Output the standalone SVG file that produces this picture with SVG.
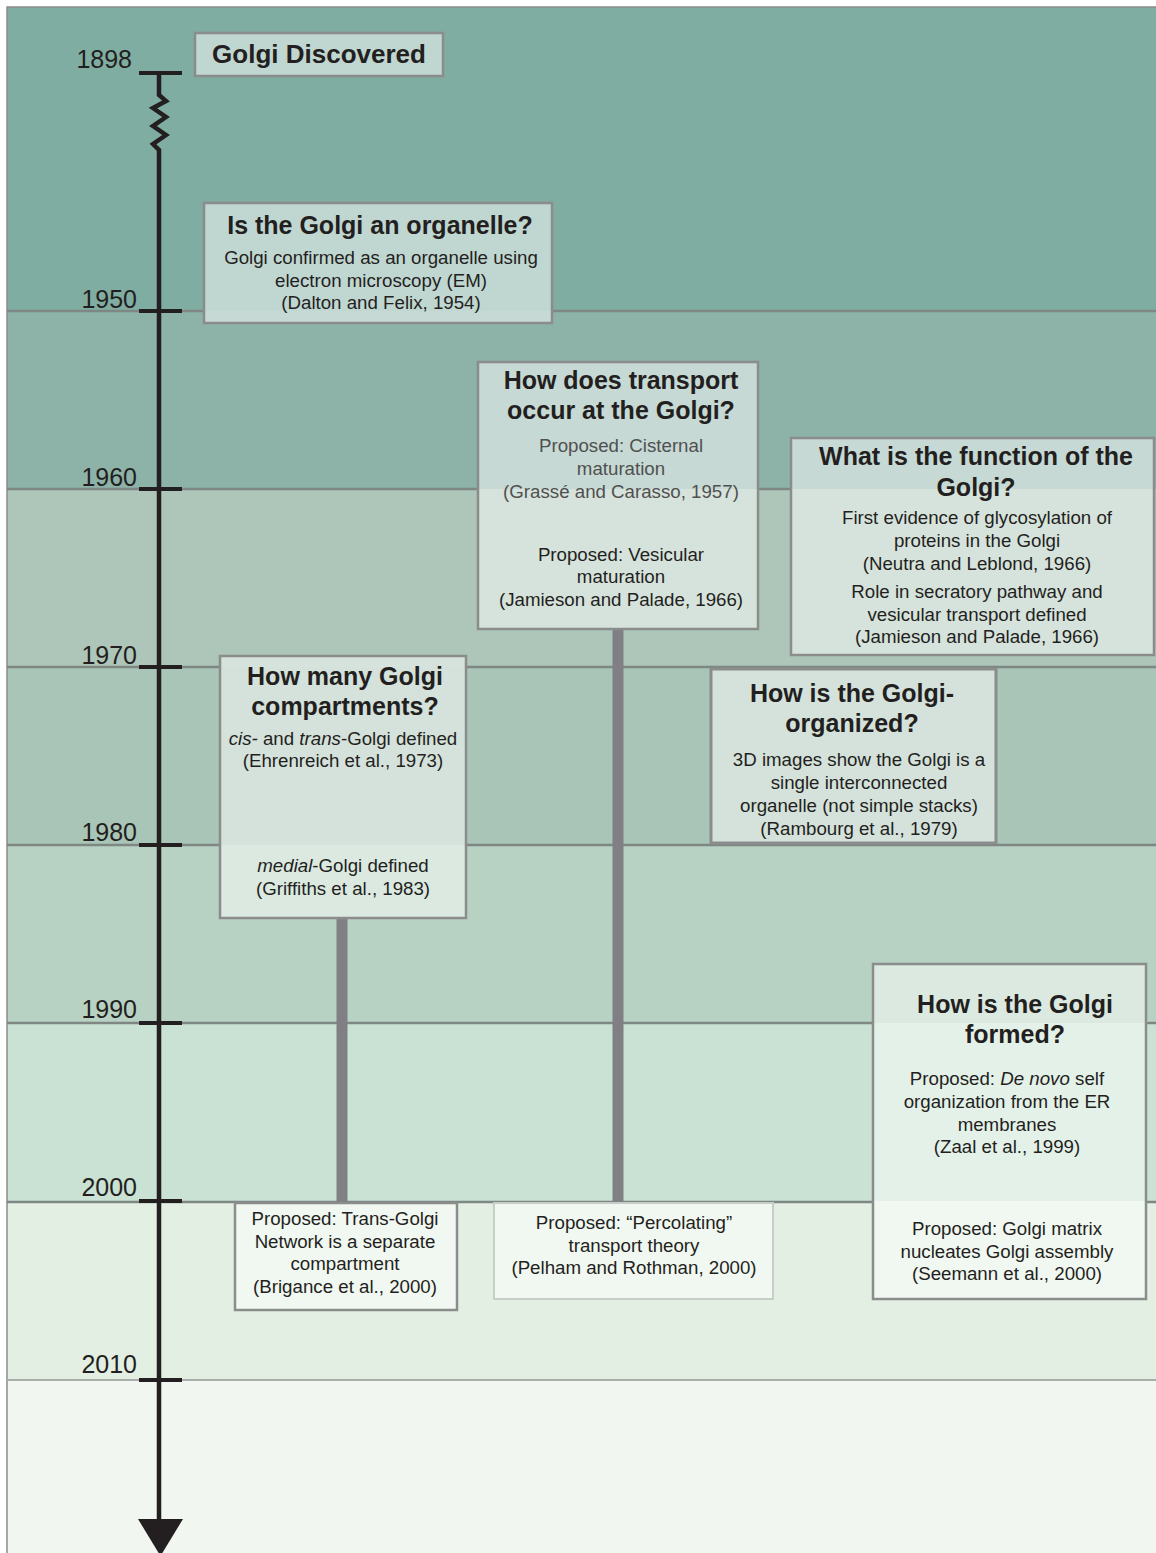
<svg xmlns="http://www.w3.org/2000/svg" width="1156" height="1553" viewBox="0 0 1156 1553">
<style>
.t{font-family:"Liberation Sans",Arial,sans-serif;font-weight:bold;font-size:25px;fill:#231f20;text-anchor:middle}
.b{font-family:"Liberation Sans",Arial,sans-serif;font-size:18.7px;fill:#231f20;text-anchor:middle}
.g{fill:#505050}
.y{font-family:"Liberation Sans",Arial,sans-serif;font-size:25px;fill:#231f20;text-anchor:end}
.box{fill:#fff;fill-opacity:0.5;stroke:#8a8d8c;stroke-width:2.5}
.bl{stroke:#7f8784;stroke-width:2.5}
.bar{stroke:#808084;stroke-width:11}
.tick{stroke:#231f20;stroke-width:4}
</style>
<rect x="0" y="0" width="1156" height="1553" fill="#fff"/>
<g id="bands">
<rect x="7" y="7" width="1149" height="304" fill="#80ada2"/>
<rect x="7" y="311" width="1149" height="178" fill="#8db3a8"/>
<rect x="7" y="489" width="1149" height="178" fill="#adc6b9"/>
<rect x="7" y="667" width="1149" height="178" fill="#a9c5b7"/>
<rect x="7" y="845" width="1149" height="178" fill="#b7d2c3"/>
<rect x="7" y="1023" width="1149" height="178" fill="#c9e2d3"/>
<rect x="7" y="1201" width="1149" height="179" fill="#e3efe3"/>
<rect x="7" y="1380" width="1149" height="173" fill="#f1f6f0"/>
<path d="M7,1553 V7 H1156" fill="none" stroke="#8c8c8c" stroke-width="1.5"/>
<path class="bl" d="M7,311 H204 M552,311 H1156 M7,489 H478 M758,489 H791 M7,667 H220 M466,667 H1156 M7,845 H220 M466,845 H1156 M7,1023 H873 M1146,1023 H1156 M7,1202 H873 M1146,1202 H1156"/>
<path d="M7,1380 H1156" stroke="#a9aeab" stroke-width="2"/>
</g>
<g id="connectors">
<line class="bar" x1="342" y1="918" x2="342" y2="1203"/>
<line class="bar" x1="618" y1="629" x2="618" y2="1201"/>
</g>
<g id="timeline">
<path d="M159,73 V95 L166,101 L153,108 L166,117 L153,126 L166,135 L153,144 L159,150 V1522" fill="none" stroke="#231f20" stroke-width="4.5"/>
<polygon points="138,1519 183,1519 160.5,1556" fill="#231f20"/>
<path class="tick" d="M139,73 H182 M139,311 H182 M139,489 H182 M139,667 H182 M139,845 H182 M139,1023 H182 M139,1201 H182 M139,1380 H182"/>
<text class="y" x="132" y="68">1898</text>
<text class="y" x="137" y="308">1950</text>
<text class="y" x="137" y="486">1960</text>
<text class="y" x="137" y="664">1970</text>
<text class="y" x="137" y="841">1980</text>
<text class="y" x="137" y="1018">1990</text>
<text class="y" x="137" y="1196">2000</text>
<text class="y" x="137" y="1373">2010</text>
</g>
<g id="discovered">
<rect class="box" x="195" y="33" width="248" height="43"/>
<text class="t" x="319" y="63" style="font-size:26px">Golgi Discovered</text>
</g>
<g id="organelle">
<rect class="box" x="204" y="203" width="348" height="120"/>
<text class="t" x="380" y="234">Is the Golgi an organelle?</text>
<text class="b" x="381" y="264">Golgi confirmed as an organelle using</text>
<text class="b" x="381" y="287">electron microscopy (EM)</text>
<text class="b" x="381" y="309">(Dalton and Felix, 1954)</text>
</g>
<g id="transport">
<rect class="box" x="478" y="362" width="280" height="267"/>
<text class="t" x="621" y="389">How does transport</text>
<text class="t" x="621" y="419">occur at the Golgi?</text>
<text class="b g" x="621" y="452">Proposed: Cisternal</text>
<text class="b g" x="621" y="475">maturation</text>
<text class="b g" x="621" y="498">(Grassé and Carasso, 1957)</text>
<text class="b" x="621" y="561">Proposed: Vesicular</text>
<text class="b" x="621" y="583">maturation</text>
<text class="b" x="621" y="606">(Jamieson and Palade, 1966)</text>
</g>
<g id="function">
<rect class="box" x="791" y="438" width="363" height="217"/>
<text class="t" x="976" y="465">What is the function of the</text>
<text class="t" x="976" y="496">Golgi?</text>
<text class="b" x="977" y="524">First evidence of glycosylation of</text>
<text class="b" x="977" y="547">proteins in the Golgi</text>
<text class="b" x="977" y="570">(Neutra and Leblond, 1966)</text>
<text class="b" x="977" y="598">Role in secratory pathway and</text>
<text class="b" x="977" y="621">vesicular transport defined</text>
<text class="b" x="977" y="643">(Jamieson and Palade, 1966)</text>
</g>
<g id="compartments">
<rect class="box" x="220" y="656" width="246" height="262"/>
<text class="t" x="345" y="685">How many Golgi</text>
<text class="t" x="345" y="715">compartments?</text>
<text class="b" x="343" y="745"><tspan font-style="italic">cis-</tspan> and <tspan font-style="italic">trans</tspan>-Golgi defined</text>
<text class="b" x="343" y="767">(Ehrenreich et al., 1973)</text>
<text class="b" x="343" y="872"><tspan font-style="italic">medial</tspan>-Golgi defined</text>
<text class="b" x="343" y="895">(Griffiths et al., 1983)</text>
</g>
<g id="organized">
<rect class="box" x="711" y="669" width="285" height="174" style="stroke-width:3"/>
<text class="t" x="852" y="702">How is the Golgi-</text>
<text class="t" x="852" y="732">organized?</text>
<text class="b" x="859" y="766">3D images show the Golgi is a</text>
<text class="b" x="859" y="789">single interconnected</text>
<text class="b" x="859" y="812">organelle (not simple stacks)</text>
<text class="b" x="859" y="835">(Rambourg et al., 1979)</text>
</g>
<g id="formed">
<rect class="box" x="873" y="964" width="273" height="335"/>
<text class="t" x="1015" y="1013">How is the Golgi</text>
<text class="t" x="1015" y="1043">formed?</text>
<text class="b" x="1007" y="1085">Proposed: <tspan font-style="italic">De novo</tspan> self</text>
<text class="b" x="1007" y="1108">organization from the ER</text>
<text class="b" x="1007" y="1131">membranes</text>
<text class="b" x="1007" y="1153">(Zaal et al., 1999)</text>
<text class="b" x="1007" y="1235">Proposed: Golgi matrix</text>
<text class="b" x="1007" y="1258">nucleates Golgi assembly</text>
<text class="b" x="1007" y="1280">(Seemann et al., 2000)</text>
</g>
<g id="tgn">
<rect class="box" x="235" y="1203" width="222" height="107"/>
<text class="b" x="345" y="1225">Proposed: Trans-Golgi</text>
<text class="b" x="345" y="1248">Network is a separate</text>
<text class="b" x="345" y="1270">compartment</text>
<text class="b" x="345" y="1293">(Brigance et al., 2000)</text>
</g>
<g id="percolating">
<rect class="box" x="494" y="1203" width="279" height="96" style="stroke:#c6cec8;stroke-width:2"/>
<text class="b" x="634" y="1229">Proposed: “Percolating”</text>
<text class="b" x="634" y="1252">transport theory</text>
<text class="b" x="634" y="1274">(Pelham and Rothman, 2000)</text>
</g>
</svg>
